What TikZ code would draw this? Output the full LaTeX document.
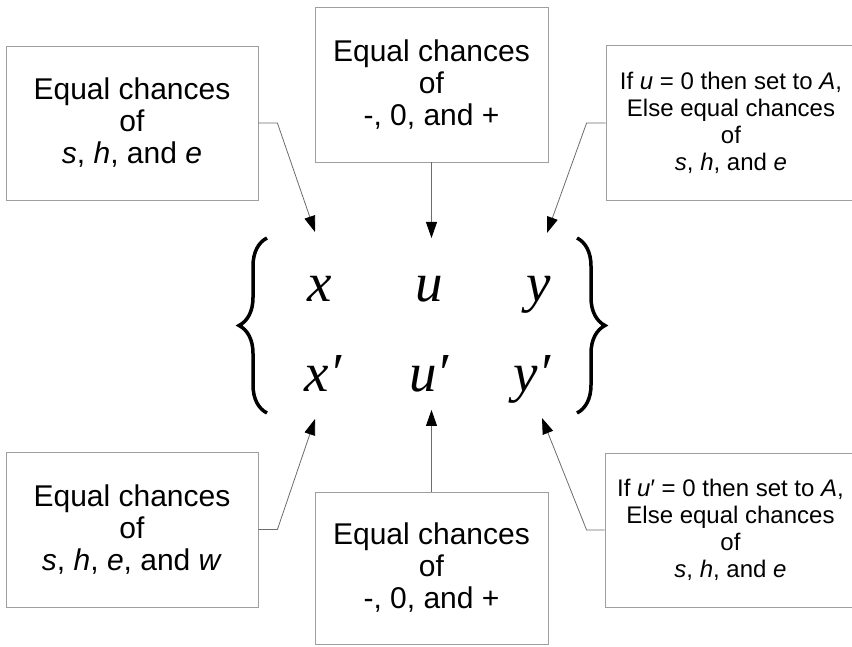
\documentclass[tikz,border=0pt]{standalone}
\usepackage{fontspec}
\setmainfont{Liberation Sans}
\newfontfamily\letterfont{Liberation Serif}
\usepackage{tikz}
\usetikzlibrary{arrows.meta, decorations.pathreplacing}

\begin{document}
\begin{tikzpicture}[x=1pt, y=1pt,
    bigbox/.style={draw=gray!75, line width=0.8pt, align=center, inner sep=0pt,
      font=\fontsize{30}{32}\selectfont},
    sidebox/.style={draw=gray!75, line width=0.8pt, align=center, inner sep=0pt,
      font=\fontsize{24}{27}\selectfont},
    letter/.style={anchor=base, inner sep=0pt,
      font=\letterfont\itshape\fontsize{55}{55}\selectfont},
    leader/.style={draw=gray!85!black, line width=0.8pt,
      -{Triangle[length=16pt, width=11pt, color=black]}},
    curly/.style={decorate, decoration={brace, amplitude=28pt}, line width=3.5pt}]
        \useasboundingbox (0,0) rectangle (852,646);

        % ── UPPER BOXES ────────────────────────────
        \node[bigbox, minimum width=252pt, minimum height=154pt] (tlbox) at (132,523)
          {Equal chances\\of\\\textit{s}, \textit{h}, and \textit{e}};
        \node[bigbox, minimum width=233pt, minimum height=155pt] (tmbox) at (431.5,561.5)
          {Equal chances\\of\\-, 0, and +};
        \node[sidebox, minimum width=250pt, minimum height=155pt] (trbox) at (731,523)
          {If \textit{u} = 0 then set to \textit{A},\\Else equal chances\\of\\\textit{s}, \textit{h}, and \textit{e}};

        % ── LOWER BOXES ────────────────────────────
        \node[bigbox, minimum width=252pt, minimum height=155pt] (blbox) at (132,116.5)
          {Equal chances\\of\\\textit{s}, \textit{h}, \textit{e}, and \textit{w}};
        \node[bigbox, minimum width=233pt, minimum height=152pt] (bmbox) at (431.5,78)
          {Equal chances\\of\\-, 0, and +};
        \node[sidebox, minimum width=251pt, minimum height=154pt] (brbox) at (730.5,116)
          {If \textit{u}′ = 0 then set to \textit{A},\\Else equal chances\\of\\\textit{s}, \textit{h}, and \textit{e}};

        % ── LETTERS ────────────────────────────────
        \node[letter] (xtop) at (320,344) {x};
        \node[letter] (utop) at (429,344) {u};
        \node[letter] (ytop) at (539,344) {y};
        \node[letter] (xbot) at (323,254) {x′};
        \node[letter] (ubot) at (429,254) {u′};
        \node[letter] (ybot) at (532,254) {y′};

        % braces
        \draw[curly] (267,233) -- (267,408);
        \draw[curly] (577,408) -- (577,233);

        % ── ARROWS ─────────────────────────────────
        \coordinate (xin) at (315,414);
        \coordinate (uin) at (431.5,408);
        \coordinate (yin) at (547,413);
        \coordinate (xout) at (315,227);
        \coordinate (uout) at (431.5,236);
        \coordinate (yout) at (542,228);

        \draw[leader] (tlbox.east) -- ++(19,0) -- (xin);
        \draw[leader] (tmbox.south) -- (uin);
        \draw[leader] (trbox.west) -- ++(-19,0) -- (yin);
        \draw[leader] (blbox.east) -- ++(19,0) -- (xout);
        \draw[leader] (bmbox.north) -- (uout);
        \draw[leader] (brbox.west) -- ++(-18,0) -- (yout);
      \end{tikzpicture}
\end{document}
